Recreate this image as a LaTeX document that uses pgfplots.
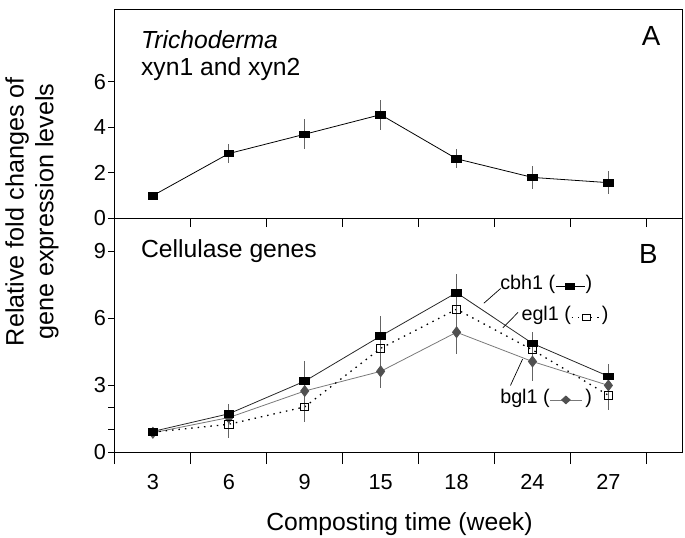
\documentclass[border=0pt]{standalone}
\usepackage{fontspec}
\setmainfont{Liberation Sans}
\usepackage{pgfplots}
\pgfplotsset{compat=1.18}

\definecolor{barcol}{RGB}{100,100,100}
\definecolor{bglmark}{RGB}{80,80,80}
\definecolor{bglline}{RGB}{120,120,120}

\pgfplotsset{
  panel/.style={
    scale only axis, width=574pt,
    xmin=-0.5, xmax=6.97, ymin=0,
    axis line style={line width=0.9pt},
    tick align=outside,
    major tick length=7pt, minor tick length=12pt,
    xtick pos=bottom, ytick pos=left,
    minor xtick={-0.5,0.5,...,6.5},
    every tick/.style={black, line width=0.9pt},
    every minor tick/.style={black, line width=0.9pt},
    major x tick style={draw=none},
    /pgf/number format/assume math mode=true,
    ticklabel style={font=\fontsize{22}{24}\selectfont},
    yticklabel style={inner sep=2pt},
    clip=false,
  },
  sqmark/.style={mark=square*, mark size=4.2pt, mark options={black, xscale=1.17, yscale=0.8}},
  ebar/.style={error bars/.cd, y dir=both, y explicit,
    error mark=none, error bar style={barcol, line width=0.8pt, solid}},
}

\newsavebox\cbhbox
\newsavebox\eglbox
\newsavebox\bglbox

\begin{document}
\sbox\cbhbox{\tikz[baseline=-0.6ex]{\draw[line width=0.8pt] (0,0)--(30pt,0); \fill (10pt,-3.4pt) rectangle (20pt,3.4pt);}}
\sbox\eglbox{\tikz[baseline=-0.6ex]{\draw[line width=1.3pt, dash pattern=on 1.5pt off 5pt] (0,0)--(30pt,0); \draw[fill=white, line width=0.8pt] (11pt,-3.2pt) rectangle (19pt,3.2pt);}}
\sbox\bglbox{\tikz[baseline=-0.6ex]{\draw[line width=0.8pt, bglline] (0,0)--(32pt,0); \fill[bglmark] (16pt,-4.5pt)--(21pt,0)--(16pt,4.5pt)--(11pt,0)--cycle;}}
\begin{tikzpicture}
\useasboundingbox (-108pt,-86.3pt) rectangle (577pt,457.7pt);

% panel A
\begin{axis}[panel, at={(0,236.7pt)}, anchor=south west,
  height=211pt, ymax=9.17, minor tick length=9pt,
  ytick={0,2,4,6}, xtick={0,...,6}, xticklabels={}]
  \addplot[black, line width=0.8pt, sqmark, ebar]
    coordinates {
    (0,1.00) +- (0,0.0)
    (1,2.85) +- (0,0.42)
    (2,3.70) +- (0,0.65)
    (3,4.56) +- (0,0.66)
    (4,2.62) +- (0,0.42)
    (5,1.80) +- (0,0.52)
    (6,1.57) +- (0,0.52)
  };
  \node[anchor=west, font=\fontsize{25}{28}\selectfont\itshape] at (rel axis cs:0.04,0.858) {Trichoderma};
  \node[anchor=west, font=\fontsize{25}{28}\selectfont] at (rel axis cs:0.04,0.716) {xyn1 and xyn2};
  \node[font=\fontsize{28}{32}\selectfont] at (rel axis cs:0.9455,0.873) {A};
\end{axis}

% panel B
\begin{axis}[panel, at={(0,0)}, anchor=south west,
  height=236.7pt, ymax=10.47,
  ytick={0,3,6,9}, extra y ticks={1,2}, extra y tick labels={},
  xtick={0,...,6},
  xticklabels={3,6,9,15,18,24,27},
  xticklabel style={yshift=-12pt}]
  \addplot[bglline, line width=0.8pt, mark=diamond*, mark size=5.5pt,
    mark options={fill=bglmark, draw=bglmark}, ebar]
    coordinates {
    (0,0.87) +- (0,0.1)
    (1,1.55) +- (0,0.3)
    (2,2.74) +- (0,0.4)
    (3,3.62) +- (0,0.73)
    (4,5.37) +- (0,0.98)
    (5,4.06) +- (0,0.85)
    (6,2.99) +- (0,0.3)
  };
  \addplot[black, line width=1.3pt, dash pattern=on 1.5pt off 5pt,
    mark=square, mark size=4.2pt,
    mark options={solid, fill=white, line width=0.8pt, xscale=1.0, yscale=0.9}, ebar]
    coordinates {
    (0,0.90) +- (0,0.05)
    (1,1.25) +- (0,0.62)
    (2,2.03) +- (0,0.66)
    (3,4.65) +- (0,0.25)
    (4,6.40) +- (0,0.3)
    (5,4.58) +- (0,0.2)
    (6,2.55) +- (0,0.66)
  };
  \addplot[black!85, line width=0.8pt, sqmark, ebar]
    coordinates {
    (0,0.93) +- (0,0.05)
    (1,1.72) +- (0,0.46)
    (2,3.18) +- (0,0.91)
    (3,5.20) +- (0,0.9)
    (4,7.14) +- (0,0.86)
    (5,4.87) +- (0,0.5)
    (6,3.40) +- (0,0.55)
  };
  \node[anchor=west, font=\fontsize{25}{28}\selectfont] at (rel axis cs:0.04,0.861) {Cellulase genes};
  \node[font=\fontsize{28}{32}\selectfont] at (rel axis cs:0.9405,0.848) {B};

  % labels with leader lines
  \draw[line width=0.7pt] (axis cs:4.36,6.67) -- (axis cs:4.58,7.33);
  \draw[line width=0.7pt] (axis cs:4.61,5.57) -- (axis cs:4.81,6.26);
  \draw[line width=0.7pt] (axis cs:4.71,2.99) -- (axis cs:4.87,4.17);
  \node[anchor=west, inner sep=1pt, font=\fontsize{20}{22}\selectfont] at (axis cs:4.56,7.51)
    {cbh1 (\usebox\cbhbox)};
  \node[anchor=west, inner sep=1pt, font=\fontsize{20}{22}\selectfont] at (axis cs:4.84,6.12)
    {egl1 (\usebox\eglbox)};
  \node[anchor=west, inner sep=1pt, font=\fontsize{20}{22}\selectfont] at (axis cs:4.56,2.43)
    {bgl1 (\usebox\bglbox\,)};
\end{axis}

\node[rotate=90, align=center, font=\fontsize{25.5}{30}\selectfont] at (-84pt,243.5pt)
  {Relative fold changes of\\gene expression levels};
\node[font=\fontsize{25}{28}\selectfont] at (288pt,-72.3pt) {Composting time (week)};
\end{tikzpicture}
\end{document}
